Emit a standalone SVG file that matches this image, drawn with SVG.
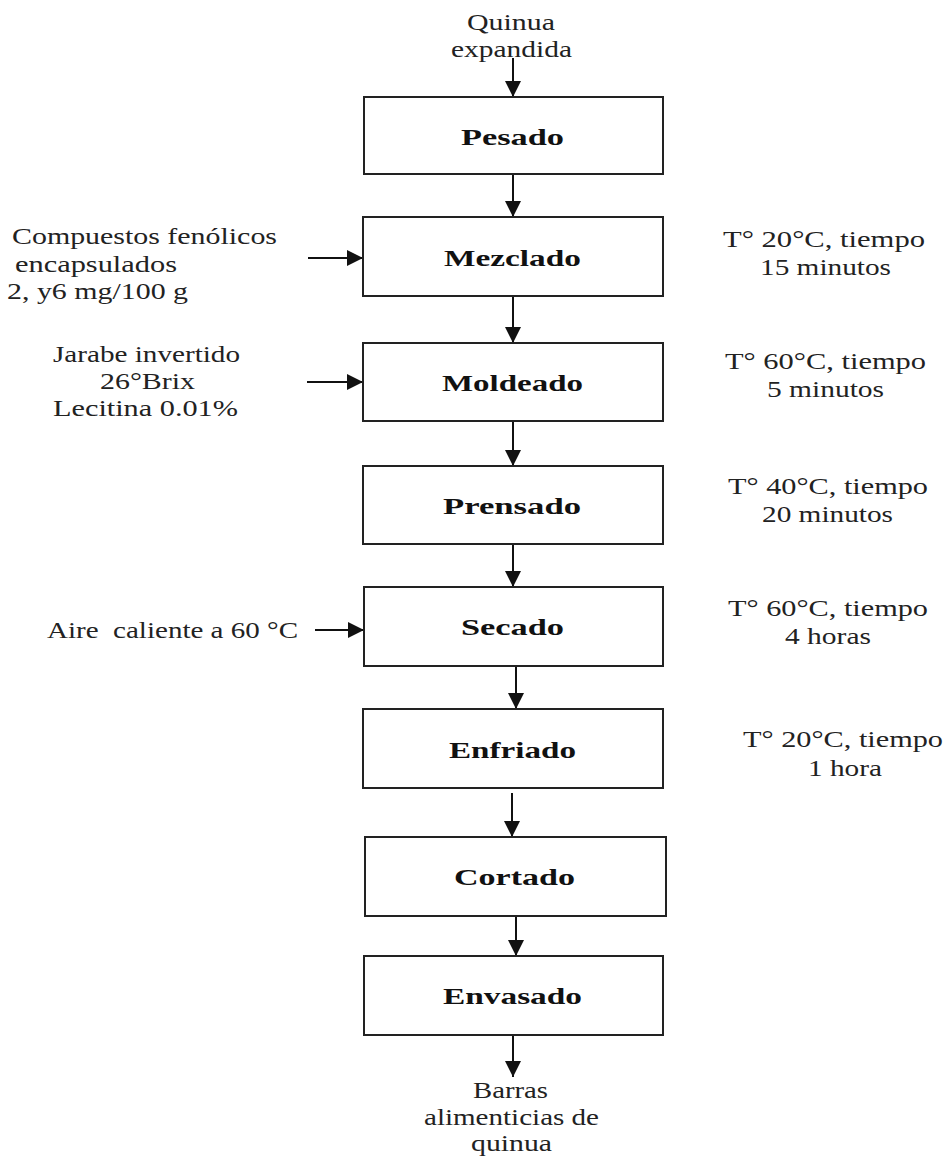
<svg xmlns="http://www.w3.org/2000/svg" width="949" height="1161" viewBox="0 0 949 1161">
<style>
.bg{fill:#fff}
.box{fill:#fff;stroke:#222;stroke-width:2}
.lbl{font-family:"Liberation Serif","Times New Roman",serif;font-size:24px;font-weight:bold;fill:#111}
.t{font-family:"Liberation Serif","Times New Roman",serif;font-size:24px;fill:#222}
.c{stroke:#111;stroke-width:2;fill:none;marker-end:url(#ah)}
</style>
<defs>
<marker id="ah" markerUnits="userSpaceOnUse" markerWidth="16" markerHeight="16" refX="16" refY="8" orient="auto">
<path d="M0,0 L16,8 L0,16 z" fill="#111"/>
</marker>
</defs>
<rect class="bg" x="0" y="0" width="949" height="1161"/>

<g id="connectors">
<line class="c" x1="513" y1="58" x2="513" y2="97"/>
<line class="c" x1="513" y1="174" x2="513" y2="217"/>
<line class="c" x1="513" y1="296" x2="513" y2="343"/>
<line class="c" x1="513" y1="421" x2="513" y2="466"/>
<line class="c" x1="513" y1="544" x2="513" y2="587"/>
<line class="c" x1="516" y1="666" x2="516" y2="709"/>
<line class="c" x1="512" y1="793" x2="512" y2="837"/>
<line class="c" x1="516" y1="916" x2="516" y2="956"/>
<line class="c" x1="513" y1="1035" x2="513" y2="1077"/>
<line class="c" x1="308" y1="258" x2="363" y2="258"/>
<line class="c" x1="307" y1="382" x2="363" y2="382"/>
<line class="c" x1="315" y1="630" x2="364" y2="630"/>
</g>

<g id="input-top">
<text class="t" x="467" y="30" textLength="88" lengthAdjust="spacingAndGlyphs">Quinua</text>
<text class="t" x="451" y="57" textLength="121" lengthAdjust="spacingAndGlyphs">expandida</text>
</g>

<g id="pesado">
<rect class="box" x="364" y="97" width="299" height="77"/>
<text class="lbl" x="461" y="145" textLength="103" lengthAdjust="spacingAndGlyphs">Pesado</text>
</g>

<g id="mezclado">
<rect class="box" x="363" y="217" width="300" height="79"/>
<text class="lbl" x="444" y="266" textLength="137" lengthAdjust="spacingAndGlyphs">Mezclado</text>
</g>

<g id="moldeado">
<rect class="box" x="363" y="343" width="300" height="78"/>
<text class="lbl" x="442" y="391" textLength="141" lengthAdjust="spacingAndGlyphs">Moldeado</text>
</g>

<g id="prensado">
<rect class="box" x="363" y="466" width="300" height="78"/>
<text class="lbl" x="443" y="514" textLength="138" lengthAdjust="spacingAndGlyphs">Prensado</text>
</g>

<g id="secado">
<rect class="box" x="364" y="587" width="299" height="79"/>
<text class="lbl" x="461" y="635" textLength="103" lengthAdjust="spacingAndGlyphs">Secado</text>
</g>

<g id="enfriado">
<rect class="box" x="363" y="709" width="300" height="79"/>
<text class="lbl" x="449" y="758" textLength="127" lengthAdjust="spacingAndGlyphs">Enfriado</text>
</g>

<g id="cortado">
<rect class="box" x="365" y="837" width="301" height="79"/>
<text class="lbl" x="454" y="885" textLength="121" lengthAdjust="spacingAndGlyphs">Cortado</text>
</g>

<g id="envasado">
<rect class="box" x="364" y="956" width="299" height="79"/>
<text class="lbl" x="443" y="1004" textLength="139" lengthAdjust="spacingAndGlyphs">Envasado</text>
</g>

<g id="output-bottom">
<text class="t" x="473" y="1098" textLength="75" lengthAdjust="spacingAndGlyphs">Barras</text>
<text class="t" x="424" y="1125" textLength="175" lengthAdjust="spacingAndGlyphs">alimenticias de</text>
<text class="t" x="471" y="1151" textLength="81" lengthAdjust="spacingAndGlyphs">quinua</text>
</g>

<g id="in-mezclado">
<text class="t" x="12" y="244" textLength="265" lengthAdjust="spacingAndGlyphs">Compuestos fenólicos</text>
<text class="t" x="15" y="272" textLength="162" lengthAdjust="spacingAndGlyphs">encapsulados</text>
<text class="t" x="7" y="299" textLength="181" lengthAdjust="spacingAndGlyphs">2, y6 mg/100 g</text>
</g>

<g id="in-moldeado">
<text class="t" x="53" y="362" textLength="187" lengthAdjust="spacingAndGlyphs">Jarabe invertido</text>
<text class="t" x="100" y="389" textLength="95" lengthAdjust="spacingAndGlyphs">26°Brix</text>
<text class="t" x="53" y="416" textLength="185" lengthAdjust="spacingAndGlyphs">Lecitina 0.01%</text>
</g>

<g id="in-secado">
<text class="t" x="47" y="638" textLength="251" lengthAdjust="spacingAndGlyphs" xml:space="preserve">Aire  caliente a 60 °C</text>
</g>

<g id="cond-mezclado">
<text class="t" x="723" y="247" textLength="202" lengthAdjust="spacingAndGlyphs">T° 20°C, tiempo</text>
<text class="t" x="760" y="275" textLength="131" lengthAdjust="spacingAndGlyphs">15 minutos</text>
</g>

<g id="cond-moldeado">
<text class="t" x="725" y="369" textLength="201" lengthAdjust="spacingAndGlyphs">T° 60°C, tiempo</text>
<text class="t" x="767" y="397" textLength="117" lengthAdjust="spacingAndGlyphs">5 minutos</text>
</g>

<g id="cond-prensado">
<text class="t" x="728" y="494" textLength="200" lengthAdjust="spacingAndGlyphs">T° 40°C, tiempo</text>
<text class="t" x="762" y="522" textLength="131" lengthAdjust="spacingAndGlyphs">20 minutos</text>
</g>

<g id="cond-secado">
<text class="t" x="728" y="616" textLength="200" lengthAdjust="spacingAndGlyphs">T° 60°C, tiempo</text>
<text class="t" x="785" y="644" textLength="86" lengthAdjust="spacingAndGlyphs">4 horas</text>
</g>

<g id="cond-enfriado">
<text class="t" x="743" y="747" textLength="200" lengthAdjust="spacingAndGlyphs">T° 20°C, tiempo</text>
<text class="t" x="808" y="776" textLength="74" lengthAdjust="spacingAndGlyphs">1 hora</text>
</g>
</svg>
